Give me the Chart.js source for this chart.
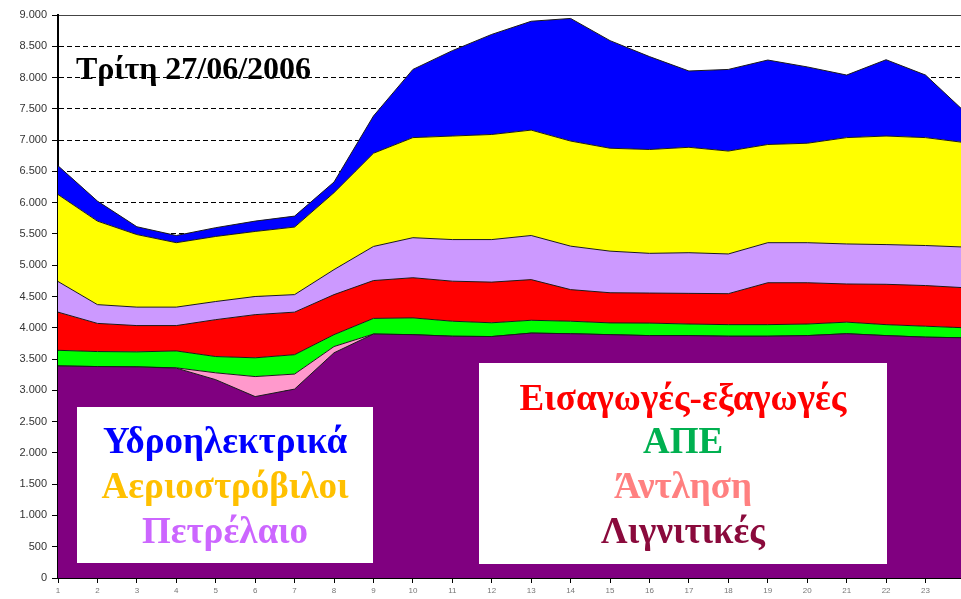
<!DOCTYPE html>
<html>
<head>
<meta charset="utf-8">
<script src="https://cdn.jsdelivr.net/npm/chart.js@4.4.1/dist/chart.umd.min.js"></script>
<style>
  html, body { margin: 0; padding: 0; background: #fff; overflow: hidden; }
  #wrap { position: relative; width: 961px; height: 599px; }
</style>
</head>
<body>
<div id="wrap"><canvas id="chart" width="961" height="599"></canvas></div>
<script>
// hours of the day
const hours = [1, 2, 3, 4, 5, 6, 7, 8, 9, 10, 11, 12, 13, 14, 15, 16, 17, 18, 19, 20, 21, 22, 23, 24];

// MW per source, bottom of the stack first
const lignite = [3390, 3380, 3375, 3355, 3170, 2900, 3020, 3600, 3900, 3890, 3865, 3860, 3915, 3905, 3890, 3875, 3875, 3865, 3865, 3875, 3905, 3875, 3850, 3840];
const pumping = [0, 0, 0, 5, 110, 320, 240, 100, 0, 0, 0, 0, 0, 0, 0, 0, 0, 0, 0, 0, 0, 0, 0, 0];
const renewables = [250, 240, 240, 270, 260, 300, 310, 190, 250, 268, 240, 220, 205, 200, 188, 200, 185, 185, 185, 185, 185, 175, 175, 160];
const imports = [610, 450, 420, 405, 590, 690, 680, 640, 605, 642, 640, 650, 650, 505, 482, 480, 490, 495, 670, 660, 610, 645, 650, 640];
const oil = [490, 300, 295, 295, 290, 290, 280, 400, 545, 640, 665, 680, 705, 695, 665, 635, 650, 635, 640, 640, 640, 635, 640, 650];
const gasTurbines = [1390, 1335, 1160, 1030, 1040, 1040, 1080, 1230, 1490, 1600, 1655, 1680, 1685, 1680, 1645, 1660, 1685, 1645, 1570, 1590, 1700, 1735, 1725, 1670];
const hydro = [460, 320, 125, 115, 140, 165, 175, 170, 595, 1090, 1365, 1600, 1740, 1960, 1720, 1485, 1220, 1305, 1350, 1220, 1000, 1220, 1000, 490];

const seriesNames = ['Λιγνιτικές', 'Άντληση', 'ΑΠΕ', 'Εισαγωγές-εξαγωγές', 'Πετρέλαιο', 'Αεριοστρόβιλοι', 'Υδροηλεκτρικά'];
const seriesValues = [lignite, pumping, renewables, imports, oil, gasTurbines, hydro];
const fillColors = ['#800080', '#FF99CC', '#00FF00', '#FF0000', '#CC99FF', '#FFFF00', '#0000FF'];

const dateLabel = 'Τρίτη 27/06/2006';

// the two white label boxes drawn over the areas
const leftBoxLabels = ['Υδροηλεκτρικά', 'Αεριοστρόβιλοι', 'Πετρέλαιο'];
const leftBoxColors = ['#0000FF', '#FFC000', '#CC66FF'];
const rightBoxLabels = ['Εισαγωγές-εξαγωγές', 'ΑΠΕ', 'Άντληση', 'Λιγνιτικές'];
const rightBoxColors = ['#FF0000', '#00B050', '#FF8080', '#8A0A3C'];

function formatThousands(value) {
  return String(value).replace(/\B(?=(\d{3})+(?!\d))/g, '.');
}

const labelBoxesPlugin = {
  id: 'labelBoxes',
  afterDraw(chart) {
    const ctx = chart.ctx;
    ctx.save();

    ctx.font = 'bold 32px "Liberation Serif", "DejaVu Serif", serif';
    ctx.fillStyle = '#000';
    ctx.textAlign = 'left';
    ctx.textBaseline = 'alphabetic';
    ctx.fillText(dateLabel, 76, 79);

    const boxes = [
      { x: 77, y: 407, w: 296, h: 156, cx: 225, baselines: [453, 498, 543], labels: leftBoxLabels, colors: leftBoxColors },
      { x: 479, y: 363, w: 408, h: 201, cx: 683, baselines: [410, 453, 498, 543], labels: rightBoxLabels, colors: rightBoxColors }
    ];

    ctx.font = 'bold 37px "Liberation Serif", "DejaVu Serif", serif';
    ctx.textAlign = 'center';
    boxes.forEach(box => {
      ctx.fillStyle = '#fff';
      ctx.fillRect(box.x, box.y, box.w, box.h);
      box.labels.forEach((label, i) => {
        ctx.fillStyle = box.colors[i];
        ctx.fillText(label, box.cx, box.baselines[i]);
      });
    });

    ctx.restore();
  }
};

const ctx = document.getElementById('chart').getContext('2d');

new Chart(ctx, {
  type: 'line',
  data: {
    datasets: seriesValues.map((values, i) => ({
      label: seriesNames[i],
      data: values.map((v, j) => ({ x: hours[j], y: v })),
      backgroundColor: fillColors[i],
      borderColor: '#1a1a1a',
      borderWidth: 1,
      pointRadius: 0,
      tension: 0,
      fill: i === 0 ? 'origin' : '-1'
    }))
  },
  options: {
    responsive: false,
    devicePixelRatio: 1,
    animation: false,
    layout: {
      padding: { top: 15, left: 0, right: 0, bottom: 0 }
    },
    plugins: {
      legend: { display: false },
      tooltip: { enabled: false }
    },
    scales: {
      x: {
        type: 'linear',
        min: 1,
        max: 23.9,
        grid: {
          drawOnChartArea: false,
          tickLength: 5,
          tickColor: '#000'
        },
        border: { color: '#000', width: 2 },
        ticks: {
          stepSize: 1,
          includeBounds: false,
          autoSkip: false,
          maxRotation: 0,
          padding: 3,
          color: '#777',
          font: { family: 'Arial, "Liberation Sans", sans-serif', size: 8 }
        },
        afterFit(scale) {
          scale.height = 21;
        }
      },
      y: {
        stacked: true,
        min: 0,
        max: 9000,
        grid: {
          color: ctx => (ctx.tick && ctx.tick.value === 9000) ? '#444' : '#000',
          lineWidth: 1,
          tickLength: 6,
          tickColor: '#000'
        },
        border: {
          color: '#000',
          width: 2,
          dash: ctx => (ctx.tick && ctx.tick.value === 9000) ? [] : [5, 3]
        },
        ticks: {
          stepSize: 500,
          padding: 5,
          color: '#333',
          font: { family: 'Arial, "Liberation Sans", sans-serif', size: 11 },
          callback: value => formatThousands(value)
        },
        afterFit(scale) {
          scale.width = 58;
        }
      }
    }
  },
  plugins: [labelBoxesPlugin]
});
</script>
</body>
</html>
